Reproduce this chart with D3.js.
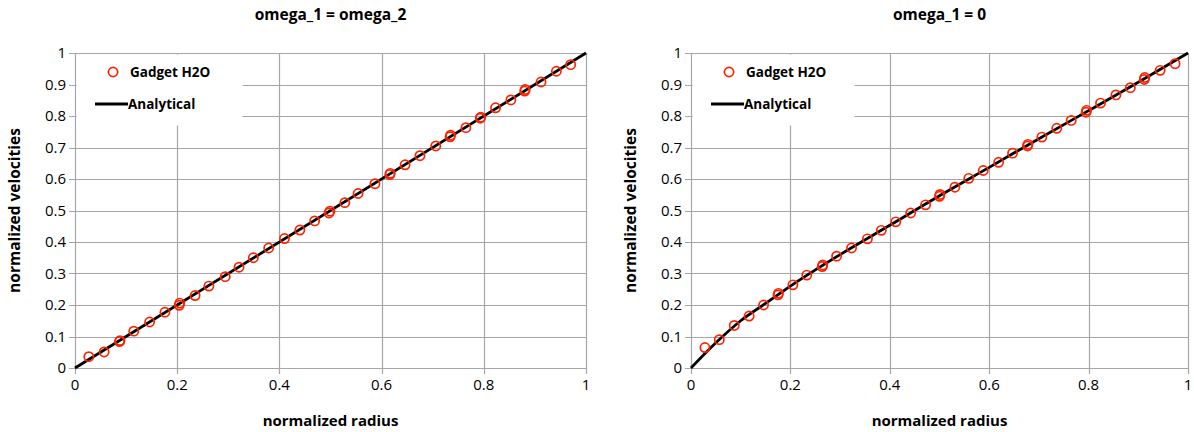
<!DOCTYPE html>
<html>
<head>
<meta charset="utf-8">
<script src="https://cdn.jsdelivr.net/npm/d3@7"></script>
<style>
  html, body { margin: 0; padding: 0; background: #fff; }
  svg { display: block; }
  text { font-family: "Open Sans", Lato, sans-serif; fill: #000; }
</style>
</head>
<body>
<svg id="chart" width="1194" height="432"></svg>
<script>
// Axis ticks shared by both panels
const xTicks = [0, 0.2, 0.4, 0.6, 0.8, 1];
const yTicks = [0, 0.1, 0.2, 0.3, 0.4, 0.5, 0.6, 0.7, 0.8, 0.9, 1];

// Panel titles and labels
const titles = ["omega_1 = omega_2", "omega_1 = 0"];
const xLabel = "normalized radius";
const yLabel = "normalized velocities";
const seriesNames = ["Gadget H2O", "Analytical"];

// omega_1 = omega_2 : simulation points
const leftRadius = [0.027, 0.057, 0.087, 0.088, 0.115, 0.146, 0.176, 0.204, 0.205, 0.235,
  0.262, 0.294, 0.321, 0.349, 0.379, 0.410, 0.440, 0.469, 0.497, 0.499,
  0.528, 0.554, 0.587, 0.616, 0.617, 0.646, 0.675, 0.706, 0.734, 0.735,
  0.765, 0.793, 0.794, 0.823, 0.853, 0.880, 0.881, 0.912, 0.942, 0.970];
const leftVelocity = [0.036, 0.051, 0.084, 0.087, 0.117, 0.146, 0.177, 0.199, 0.206, 0.230,
  0.260, 0.290, 0.320, 0.350, 0.381, 0.411, 0.438, 0.467, 0.492, 0.498,
  0.525, 0.554, 0.585, 0.614, 0.618, 0.645, 0.674, 0.705, 0.734, 0.739,
  0.763, 0.793, 0.796, 0.826, 0.851, 0.879, 0.884, 0.908, 0.942, 0.963];
// omega_1 = omega_2 : analytical profile
const leftExactRadius = [0, 1];
const leftExactVelocity = [0, 1];

// omega_1 = 0 : simulation points
const rightRadius = [0.028, 0.057, 0.087, 0.117, 0.146, 0.175, 0.176, 0.205, 0.233, 0.264,
  0.265, 0.293, 0.323, 0.355, 0.383, 0.412, 0.442, 0.472, 0.500, 0.501,
  0.531, 0.559, 0.588, 0.619, 0.647, 0.677, 0.678, 0.706, 0.736, 0.765,
  0.795, 0.796, 0.824, 0.855, 0.884, 0.912, 0.913, 0.944, 0.974];
const rightVelocity = [0.065, 0.090, 0.135, 0.165, 0.200, 0.232, 0.237, 0.264, 0.295, 0.322,
  0.327, 0.355, 0.381, 0.410, 0.437, 0.464, 0.492, 0.518, 0.545, 0.551,
  0.574, 0.602, 0.627, 0.653, 0.682, 0.705, 0.710, 0.733, 0.761, 0.786,
  0.812, 0.818, 0.841, 0.867, 0.890, 0.916, 0.922, 0.945, 0.966];
// omega_1 = 0 : analytical profile
const rightExactRadius = [0, 0.05, 0.1, 0.15, 0.2, 0.3, 0.4, 0.5, 0.6, 0.7, 0.8, 0.9, 1];
const rightExactVelocity = [0, 0.08, 0.15, 0.205, 0.26, 0.36, 0.453, 0.547, 0.637, 0.728, 0.817, 0.907, 1];

const panels = [
  { title: titles[0], left: 75, right: 586, pts: d3.zip(leftRadius, leftVelocity),
    exact: d3.zip(leftExactRadius, leftExactVelocity), legendW: 166 },
  { title: titles[1], left: 691, right: 1188, pts: d3.zip(rightRadius, rightVelocity),
    exact: d3.zip(rightExactRadius, rightExactVelocity), legendW: 162 }
];

const plotTop = 53, plotBottom = 368;
const gridColor = "#a6a6a6";
const markerColor = "#ff2200";
const svg = d3.select("#chart");

panels.forEach(p => {
  const x = d3.scaleLinear().domain([0, 1]).range([p.left, p.right]);
  const y = d3.scaleLinear().domain([0, 1]).range([plotBottom, plotTop]);
  const g = svg.append("g");

  // gridlines
  g.selectAll("line.hgrid").data(yTicks).join("line")
    .attr("x1", x(0) - 6).attr("x2", x(1))
    .attr("y1", d => Math.round(y(d)) + 0.5).attr("y2", d => Math.round(y(d)) + 0.5)
    .attr("stroke", gridColor).attr("stroke-width", 1.2);
  g.selectAll("line.vgrid").data(xTicks).join("line")
    .attr("x1", d => Math.round(x(d)) + 0.5).attr("x2", d => Math.round(x(d)) + 0.5)
    .attr("y1", y(1)).attr("y2", y(0) + 6)
    .attr("stroke", gridColor).attr("stroke-width", 1.2);

  // legend box sits over the grid
  g.append("rect")
    .attr("x", x(0) + 1.5).attr("y", y(1) + 1.5)
    .attr("width", p.legendW).attr("height", 71)
    .attr("fill", "#fff");

  // tick labels
  g.selectAll("text.ytick").data(yTicks).join("text")
    .attr("x", x(0) - 9).attr("y", d => y(d)).attr("dy", "0.36em")
    .attr("text-anchor", "end").attr("font-size", 15)
    .text(d => d3.format("~g")(d));
  g.selectAll("text.xtick").data(xTicks).join("text")
    .attr("x", d => x(d)).attr("y", plotBottom + 22)
    .attr("text-anchor", "middle").attr("font-size", 15)
    .text(d => d3.format("~g")(d));

  // analytical curve
  g.append("path")
    .datum(p.exact)
    .attr("fill", "none").attr("stroke", "#000").attr("stroke-width", 2.8)
    .attr("d", d3.line().x(d => x(d[0])).y(d => y(d[1])).curve(d3.curveMonotoneX));

  // simulation markers
  g.selectAll("circle.pt").data(p.pts).join("circle")
    .attr("cx", d => x(d[0])).attr("cy", d => y(d[1])).attr("r", 4.6)
    .attr("fill", "none").attr("stroke", markerColor).attr("stroke-width", 1.7);

  // legend
  const lx = x(0);
  g.append("circle").attr("cx", lx + 38).attr("cy", 72).attr("r", 4.6)
    .attr("fill", "none").attr("stroke", markerColor).attr("stroke-width", 1.7);
  g.append("text").attr("x", lx + 55).attr("y", 77).attr("font-size", 13.5)
    .attr("font-weight", "bold").text(seriesNames[0]);
  g.append("line").attr("x1", lx + 20).attr("x2", lx + 53).attr("y1", 104).attr("y2", 104)
    .attr("stroke", "#000").attr("stroke-width", 3);
  g.append("text").attr("x", lx + 53).attr("y", 109).attr("font-size", 13.5)
    .attr("font-weight", "bold").text(seriesNames[1]);

  // titles and axis labels
  const cx = (p.left + p.right) / 2;
  g.append("text").attr("x", cx).attr("y", 20).attr("text-anchor", "middle")
    .attr("font-size", 15.5).attr("font-weight", "bold").text(p.title);
  g.append("text").attr("x", cx).attr("y", 426).attr("text-anchor", "middle")
    .attr("font-size", 15).attr("font-weight", "bold").text(xLabel);
  g.append("text")
    .attr("transform", `translate(${p.left - 55},${(plotTop + plotBottom) / 2}) rotate(-90)`)
    .attr("text-anchor", "middle").attr("font-size", 15.5).attr("font-weight", "bold")
    .text(yLabel);
});
</script>
</body>
</html>
